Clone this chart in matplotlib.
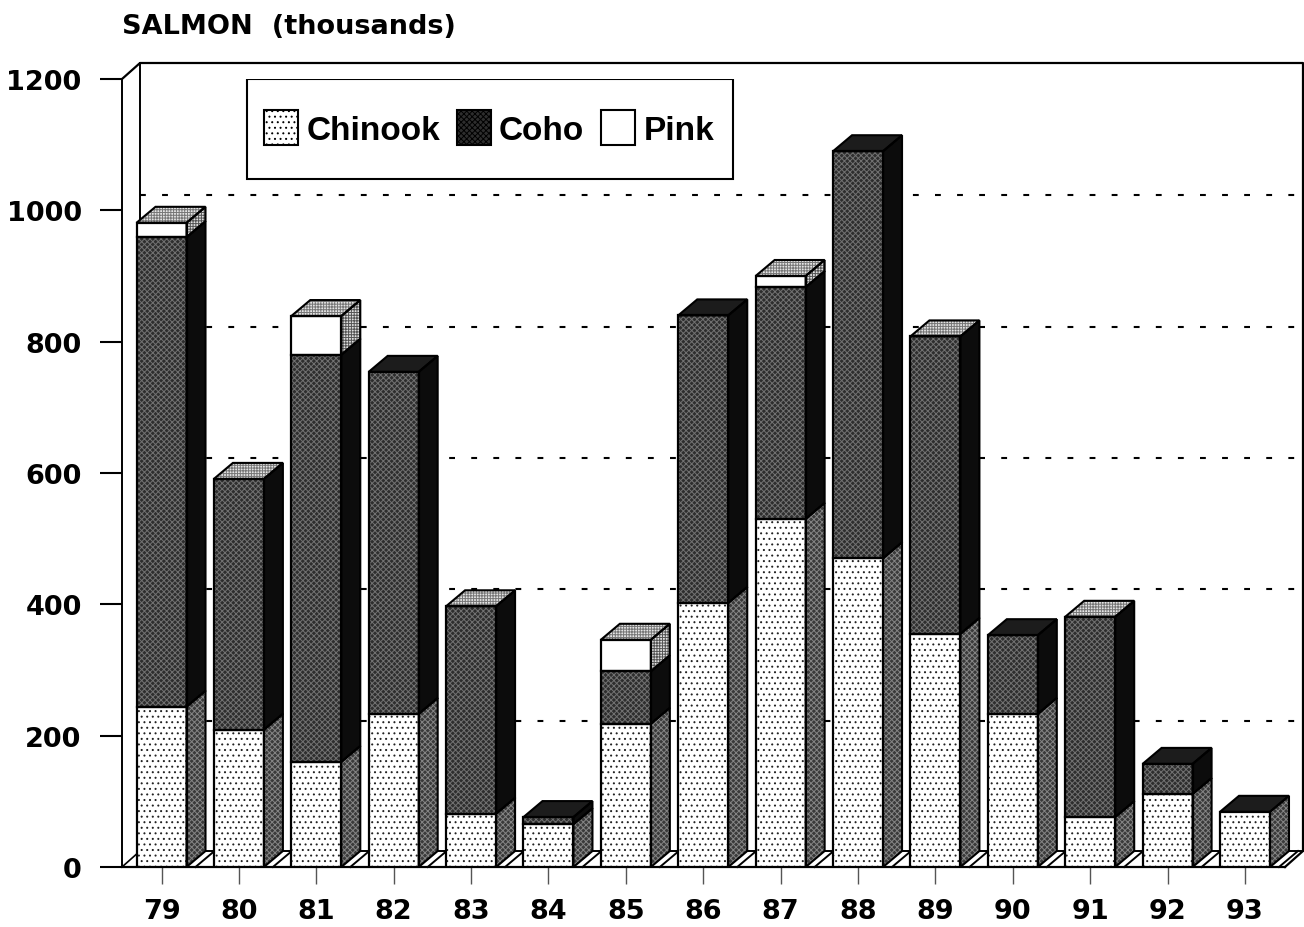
import matplotlib
matplotlib.use('Agg')
import matplotlib.pyplot as plt
from matplotlib.patches import Patch, Polygon, Rectangle

# Salmon catch in thousands
years = ['79', '80', '81', '82', '83', '84', '85', '86', '87', '88', '89', '90', '91', '92', '93']
chinook = [244, 209, 160, 233, 81, 65, 218, 402, 530, 470, 355, 233, 76, 111, 84]
coho = [715, 382, 620, 521, 316, 11, 80, 438, 353, 620, 453, 120, 305, 46, 0]
pink = [22, 0, 59, 0, 0, 0, 48, 0, 17, 0, 0, 0, 0, 0, 0]
pale_top_years = ['79', '80', '81', '83', '85', '87', '89', '91']
y_ticks = [0, 200, 400, 600, 800, 1000, 1200]

plt.rcParams['hatch.linewidth'] = 0.7

fig = plt.figure(figsize=(13.04, 9.28), dpi=100)
ax = fig.add_axes([122 / 1304, 60 / 928, 1163 / 1304, 788 / 928])
ax.set_xlim(-0.5104, 14.517)
ax.set_ylim(0, 1200)

# Size of one pixel in data units, used for the fake 3d depth
px_x = 15.027 / 1163
px_y = 1200 / 788
depth_x = 19 * px_x
depth_y = 16 * px_y
wall_x = 18 * px_x
wall_y = 16 * px_y
grid_y = 15 * px_y
bar_width = 50 * px_x
x_left, x_right = ax.get_xlim()

# Back wall and floor
ax.plot([x_left, x_left + wall_x, x_right + wall_x, x_right + wall_x, x_right],
        [1200, 1200 + wall_y, 1200 + wall_y, wall_y, 0],
        color='black', lw=1.6, clip_on=False, zorder=1)
ax.plot([x_left + wall_x, x_left + wall_x, x_right + wall_x], [1200 + wall_y, wall_y, wall_y],
        color='black', lw=1.4, clip_on=False, zorder=1)
ax.plot([x_left, x_left + wall_x], [0, wall_y], color='black', lw=1.2, clip_on=False, zorder=1)
for t in y_ticks[1:-1]:
    ax.plot([x_left + wall_x, x_right + wall_x], [t + grid_y, t + grid_y], color='black', lw=1.5,
            linestyle=(0, (2.8, 7.8)), clip_on=False, zorder=1)


def face(xs, ys, fill, hatch, hatch_color):
    ax.add_patch(Polygon(list(zip(xs, ys)), closed=True, facecolor=fill, hatch=hatch, edgecolor=hatch_color,
                         lw=0, clip_on=False, zorder=3))
    ax.add_patch(Polygon(list(zip(xs, ys)), closed=True, fill=False, edgecolor='black', lw=1.5,
                         clip_on=False, zorder=4))


def segment(i, low, high, front, side):
    x1 = i + bar_width / 2
    ax.bar(i, high - low, bottom=low, width=bar_width, facecolor=front[0], hatch=front[1], edgecolor=front[2],
           lw=0, zorder=3)
    ax.bar(i, high - low, bottom=low, width=bar_width, fill=False, edgecolor='black', lw=1.6, zorder=4)
    face([x1, x1 + depth_x, x1 + depth_x, x1], [low, low + depth_y, high + depth_y, high],
         side[0], side[1], side[2])


chinook_front = ('white', '...', '#222222')
coho_front = ('#2e2e2e', 'xxxxxx', '#727272')
pink_front = ('white', None, 'black')
chinook_side = ('#3a3a3a', 'xxxxxx', '#858585')
coho_side = ('#0c0c0c', None, '#0c0c0c')
pink_side = ('#e0e0e0', '++++++', '#555555')

for i, year in enumerate(years):
    x0 = i - bar_width / 2
    x1 = i + bar_width / 2
    # stripe on the floor right of each bar
    ax.plot([x1 + 9 * px_x, x1 + 9 * px_x + depth_x], [0, depth_y], color='black', lw=1.4, clip_on=False, zorder=2)

    a = chinook[i]
    b = a + coho[i]
    c = b + pink[i]
    segment(i, 0, a, chinook_front, chinook_side)
    if coho[i] > 0:
        segment(i, a, b, coho_front, coho_side)
    if pink[i] > 0:
        segment(i, b, c, pink_front, pink_side)

    if year in pale_top_years:
        top = ('#e4e4e4', '++++++', '#777777')
    else:
        top = ('#1c1c1c', None, '#1c1c1c')
    face([x0, x0 + depth_x, x1 + depth_x, x1], [c, c + depth_y, c + depth_y, c], top[0], top[1], top[2])

# Legend, the frame is drawn apart so its size does not follow the text
ax.add_patch(Rectangle(((247 - 122) / 1163, (868 - 180) / 788), 486 / 1163, 100 / 788, transform=ax.transAxes,
                       facecolor='white', edgecolor='black', lw=1.5, zorder=5))
handles = [Patch(facecolor='white', edgecolor='black', hatch='...', lw=1.5, label='Chinook'),
           Patch(facecolor='#2e2e2e', edgecolor='black', hatch='xxxxxx', lw=1.5, label='Coho'),
           Patch(facecolor='white', edgecolor='black', lw=1.5, label='Pink')]
leg = ax.legend(handles=handles, ncol=3, loc='center', bbox_to_anchor=((489 - 122) / 1163, (868 - 129) / 788),
                borderaxespad=0, frameon=False,
                prop={'family': 'Liberation Sans', 'weight': 'bold', 'size': 24},
                handlelength=1.02, handleheight=1.2, handletextpad=0.25, columnspacing=0.5, borderpad=0)
leg.set_zorder(6)

ax.set_xticks(range(len(years)))
ax.set_xticklabels(years)
ax.set_yticks(y_ticks)
ax.tick_params(axis='y', length=16, width=1.5, pad=13, labelsize=19.5)
ax.tick_params(axis='x', length=12, width=1.0, color='#555555', pad=10, labelsize=19.5)
for label in ax.get_xticklabels() + ax.get_yticklabels():
    label.set_fontweight('bold')

ax.spines['top'].set_visible(False)
ax.spines['right'].set_visible(False)
ax.spines['left'].set_linewidth(1.4)
ax.spines['bottom'].set_linewidth(1.6)

ax.set_title('SALMON  (thousands)', loc='left', fontweight='bold', fontsize=19.5, pad=33)

fig.savefig('out.png', dpi=100)
